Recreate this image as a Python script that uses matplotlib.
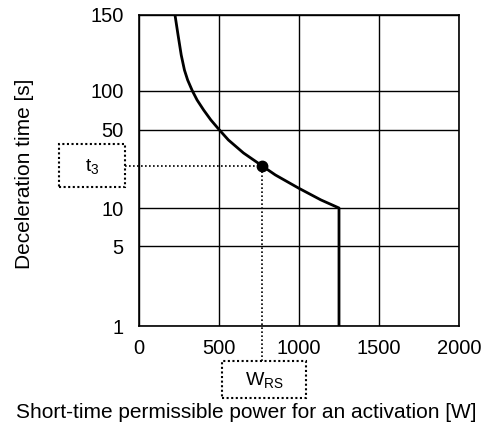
import matplotlib.pyplot as plt
from matplotlib.patches import Rectangle
from matplotlib.ticker import NullLocator
import matplotlib.transforms as mtransforms
import numpy as np

# Values
power = [225, 244, 264, 284, 304, 333, 363, 404, 449, 500, 559, 653, 770,
         852, 995, 1137, 1250, 1250]
time = [150, 134.8, 121, 111.7, 105.9, 100, 84.7, 70.8, 59.3, 50, 40.3, 30.9, 23.7,
        19.7, 15.1, 11.8, 10, 1]

point_power = 770  # W_RS
point_time = 23.7  # t3

x_ticks = [0, 500, 1000, 1500, 2000]
y_ticks = [1, 5, 10, 50, 100, 150]
# pixel height of each y tick above the bottom of the plot (the axis is piecewise log)
y_tick_pos = [0, 80, 118, 196.5, 235.3, 311]

plt.rcParams['font.family'] = ['Liberation Sans', 'DejaVu Sans']
plt.rcParams['mathtext.fontset'] = 'custom'
plt.rcParams['mathtext.rm'] = 'Liberation Sans'


def forward(v):
    v = np.maximum(np.asarray(v, dtype=float), 1e-6)
    return np.interp(np.log10(v), np.log10(y_ticks), y_tick_pos)


def inverse(p):
    return 10 ** np.interp(p, y_tick_pos, np.log10(y_ticks))


W, H = 484, 428
fig = plt.figure(figsize=(W / 100, H / 100), dpi=100)
ax = fig.add_axes([139 / W, 1 - 326 / H, 320 / W, 311 / H])

ax.set_yscale('function', functions=(forward, inverse))
ax.set_xlim(0, 2000)
ax.set_ylim(1, 150)
ax.set_xticks(x_ticks)
ax.set_yticks(y_ticks)
ax.set_yticklabels([str(t) for t in y_ticks])
ax.yaxis.set_minor_locator(NullLocator())
ax.tick_params(length=0, labelsize=14.5)
ax.tick_params(axis='x', pad=9)
ax.tick_params(axis='y', pad=11)
ax.grid(True, color='black', linewidth=1.0)
for s in ax.spines.values():
    s.set_linewidth(1.2)

ax.plot(power, time, color='black', linewidth=2.0, solid_joinstyle='round')
ax.plot([point_power], [point_time], 'o', color='black', markersize=7.5)

fig.text(246 / W, 1 - 412 / H, "Short-time permissible power for an activation [W]",
         fontsize=15, ha='center', va='center')
fig.text(25 / W, 1 - 174 / H, "Deceleration time [s]", fontsize=15,
         rotation=90, ha='center', va='center')

# dotted leader lines to the label boxes
dot_style = dict(color='black', linewidth=1.2, linestyle=(0, (1, 1.4)), clip_on=False)
dot_fx = point_power / 2000
dot_fy = forward(point_time) / 311
trans_h = mtransforms.blended_transform_factory(ax.transAxes, ax.transData)
ax.plot([(125 - 139) / 320, dot_fx], [point_time, point_time], transform=trans_h, **dot_style)
trans_v = mtransforms.blended_transform_factory(ax.transData, ax.transAxes)
ax.plot([point_power, point_power], [(326 - 361) / 311, dot_fy], transform=trans_v, **dot_style)

box_style = dict(fill=False, edgecolor='black', linewidth=1.5, linestyle=(0, (1, 1.2)),
                 transform=fig.transFigure)
fig.add_artist(Rectangle((59 / W, 1 - 187 / H), 66 / W, 43 / H, **box_style))
fig.add_artist(Rectangle((222 / W, 1 - 398 / H), 84 / W, 37 / H, **box_style))
fig.text(92 / W, 1 - 166 / H, r"$\mathregular{t_3}$", fontsize=14, ha='center', va='center')
fig.text(264 / W, 1 - 380 / H, r"$\mathregular{W_{RS}}$", fontsize=14, ha='center', va='center')

fig.savefig("out.png", dpi=100)
